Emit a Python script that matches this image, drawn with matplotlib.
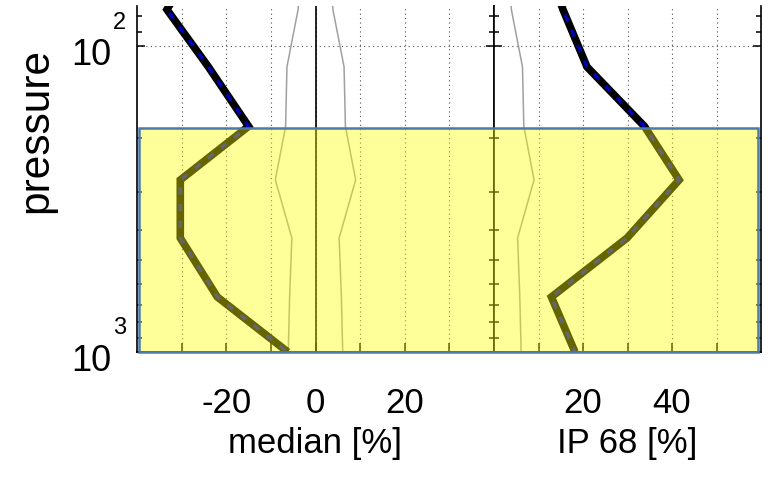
import matplotlib
matplotlib.use('Agg')
import matplotlib.pyplot as plt
from matplotlib.patches import Rectangle
from matplotlib.ticker import FixedLocator, FixedFormatter, NullFormatter
import matplotlib.transforms as mtransforms

plt.rcParams['font.family'] = ['Liberation Sans', 'DejaVu Sans']

# ---------------- data ----------------
pressure = [60, 76, 117, 183, 274, 424, 661, 1000]
median = [-29.0, -33.3, -24.0, -15.0, -30.3, -30.3, -22.0, -6.2]
ip68 = [13.0, 15.5, 20.9, 33.8, 41.6, 29.9, 12.9, 18.2]
spread = [3.5, 3.9, 6.4, 6.7, 9.0, 5.3, 5.8, 6.1]

median_ticks = [-30, -20, -10, 0, 10, 20, 30]
median_labels = ['', '-20', '', '0', '', '20', '']
ip_ticks = [10, 20, 30, 40, 50]
ip_labels = ['', '20', '', '40', '']
pressure_major = [100, 1000]
pressure_exp = ['2', '3']
pressure_minor = [80, 90, 200, 300, 400, 500, 600, 700, 800, 900]
highlight_top = 185
highlight_bottom = 1000

# ---------------- layout ----------------
W, H = 768, 488
fig = plt.figure(figsize=(W / 100, H / 100), dpi=100)
ax1 = fig.add_axes([137 / W, 1 - 352 / H, (494 - 137) / W, (352 - 6) / H])
ax2 = fig.add_axes([494 / W, 1 - 352 / H, (761 - 494) / W, (352 - 6) / H])

TICK_FS = 25
grid_kw = dict(color='#505050', linestyle=(0, (1, 3)), linewidth=0.8)


def thick(ax, x, y):
    ax.plot(x, y, color='black', lw=5.5, solid_joinstyle='miter',
            solid_capstyle='butt', zorder=3)
    ax.plot(x, y, color='#0000b4', lw=2.6, linestyle=(0, (2.0, 2.6)),
            dash_capstyle='butt', zorder=4)


for ax in (ax1, ax2):
    ax.set_yscale('log')
    ax.set_ylim(1000, 74)
    ax.yaxis.set_major_locator(FixedLocator(pressure_major))
    ax.yaxis.set_minor_locator(FixedLocator(pressure_minor))
    ax.yaxis.set_major_formatter(NullFormatter())
    ax.yaxis.set_minor_formatter(NullFormatter())
    ax.tick_params(axis='y', which='major', direction='in', length=6,
                   width=1.1, left=True, right=True)
    ax.tick_params(axis='y', which='minor', direction='in', length=3.5,
                   width=1.1, left=True, right=True)
    ax.tick_params(axis='x', which='major', direction='in', length=6.5,
                   width=1.1, top=False, pad=25.5, labelsize=TICK_FS)
    ax.spines['top'].set_visible(False)
    for s in ('left', 'right', 'bottom'):
        ax.spines[s].set_linewidth(1.2)
    ax.grid(True, which='major', **grid_kw)
    ax.set_axisbelow(True)

# left panel: median
ax1.set_xlim(-40, 40)
ax1.xaxis.set_major_locator(FixedLocator(median_ticks))
ax1.xaxis.set_major_formatter(FixedFormatter(median_labels))
ax1.axvline(0, color='black', lw=1.2, zorder=2)
ax1.plot([-s for s in spread], pressure, color='#a0a0a0', lw=1.1, zorder=2)
ax1.plot(spread, pressure, color='#a0a0a0', lw=1.1, zorder=2)
thick(ax1, median, pressure)
ax1.set_xlabel('median [%]', fontsize=TICK_FS)
ax1.xaxis.set_label_coords(0.5, -0.2168)
ax1.set_ylabel('pressure', fontsize=30.5)
ax1.yaxis.set_label_coords(-0.2269, 0.640)

for p, e in zip(pressure_major, pressure_exp):
    ax1.annotate('10', xy=(0, p), xycoords=('axes fraction', 'data'),
                 xytext=(-26, -19), textcoords='offset pixels', ha='right',
                 va='baseline', fontsize=26, annotation_clip=False)
    ax1.annotate(e, xy=(0, p), xycoords=('axes fraction', 'data'),
                 xytext=(-24, 17.5), textcoords='offset pixels', ha='left',
                 va='baseline', fontsize=17, annotation_clip=False)

# right panel: IP 68
ax2.set_xlim(0, 60)
ax2.xaxis.set_major_locator(FixedLocator(ip_ticks))
ax2.xaxis.set_major_formatter(FixedFormatter(ip_labels))
ax2.plot(spread, pressure, color='#a0a0a0', lw=1.1, zorder=2)
thick(ax2, ip68, pressure)
ax2.set_xlabel('IP 68 [%]', fontsize=TICK_FS)
ax2.xaxis.set_label_coords(0.5, -0.2168)

# shaded layer spanning both panels
trans = mtransforms.blended_transform_factory(fig.transFigure, ax1.transData)
rect = Rectangle((139 / W, highlight_top), (758 - 139) / W,
                 highlight_bottom - highlight_top, transform=trans,
                 facecolor=(1, 1, 0, 0.4), edgecolor='#4a7bab', lw=1.8,
                 zorder=10)
fig.add_artist(rect)

fig.savefig('out.png', dpi=100)
